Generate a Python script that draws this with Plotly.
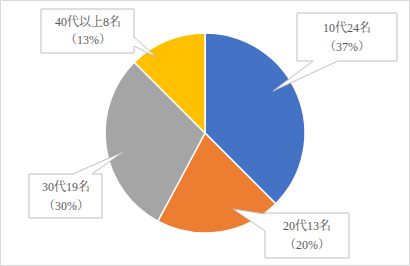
import plotly.graph_objects as go

# ---- data ----
categories = ["10代", "20代", "30代", "40代以上"]
counts = [24, 13, 19, 8]
pct_labels = ["37%", "20%", "30%", "13%"]
colors = ["#4472C4", "#ED7D31", "#A5A5A5", "#FFC000"]

W, H = 410, 266

def px(x):
    return x / W

def py(y):
    return 1 - y / H

# callout layout (pixel geometry): box (x0, y0, x1, y1), pointer base pts, tip
callouts = [
    dict(box=(297, 13, 397, 61), base=[(338, 61), (313, 61)], side="bottom", tip=(273, 91)),
    dict(box=(265, 213, 349, 258), base=[(265, 214), (265, 231)], side="left", tip=(233, 209)),
    dict(box=(29, 174, 102, 218), base=[(73, 174), (92, 174)], side="top", tip=(123, 152)),
    dict(box=(41, 9, 134, 53), base=[(134, 37), (134, 46)], side="right", tip=(156, 57)),
]

fig = go.Figure(go.Pie(
    labels=categories,
    values=counts,
    sort=False,
    direction="clockwise",
    rotation=0,
    marker=dict(colors=colors, line=dict(color="white", width=1.5)),
    textinfo="none",
    hoverinfo="label+value+percent",
    domain=dict(x=[px(105), px(305)], y=[py(233), py(33)]),
    showlegend=False,
))

shapes = []
annotations = []
font = dict(family="Liberation Serif, Noto Serif CJK JP, Noto Sans CJK JP", size=12, color="#595959")

for cat, n, pct, c in zip(categories, counts, pct_labels, callouts):
    x0, y0, x1, y1 = c["box"]
    (bx1, by1), (bx2, by2) = c["base"]
    tx, ty = c["tip"]
    side = c["side"]
    if side == "bottom":
        pts = [(x0, y0), (x1, y0), (x1, y1), (bx1, by1), (tx, ty), (bx2, by2), (x0, y1)]
    elif side == "top":
        pts = [(x0, y0), (bx1, by1), (tx, ty), (bx2, by2), (x1, y0), (x1, y1), (x0, y1)]
    elif side == "left":
        pts = [(x0, y0), (x1, y0), (x1, y1), (x0, y1), (bx2, by2), (tx, ty), (bx1, by1)]
    else:  # right
        pts = [(x0, y0), (x1, y0), (bx1, by1), (tx, ty), (bx2, by2), (x1, y1), (x0, y1)]
    path = "M " + " L ".join(f"{px(x):.5f},{py(y):.5f}" for x, y in pts) + " Z"
    shapes.append(dict(type="path", path=path, xref="paper", yref="paper",
                       fillcolor="white", line=dict(color="#BFBFBF", width=1)))
    cx = (x0 + x1) / 2
    cy = (y0 + y1) / 2
    annotations.append(dict(x=px(cx), y=py(cy - 9.5), xref="paper", yref="paper",
                            text=f"{cat}{n}名", showarrow=False, font=font,
                            xanchor="center", yanchor="middle"))
    annotations.append(dict(x=px(cx), y=py(cy + 9.5), xref="paper", yref="paper",
                            text=f"（{pct}）", showarrow=False, font=font,
                            xanchor="center", yanchor="middle"))

# chart outer border
shapes.append(dict(type="rect", xref="paper", yref="paper",
                   x0=px(0.5), y0=py(265.5), x1=px(409.5), y1=py(0.5),
                   line=dict(color="#D9D9D9", width=1), fillcolor="rgba(0,0,0,0)"))

fig.update_layout(
    width=W, height=H,
    margin=dict(l=0, r=0, t=0, b=0),
    paper_bgcolor="white",
    plot_bgcolor="white",
    shapes=shapes,
    annotations=annotations,
)

fig.write_html("out.html")
